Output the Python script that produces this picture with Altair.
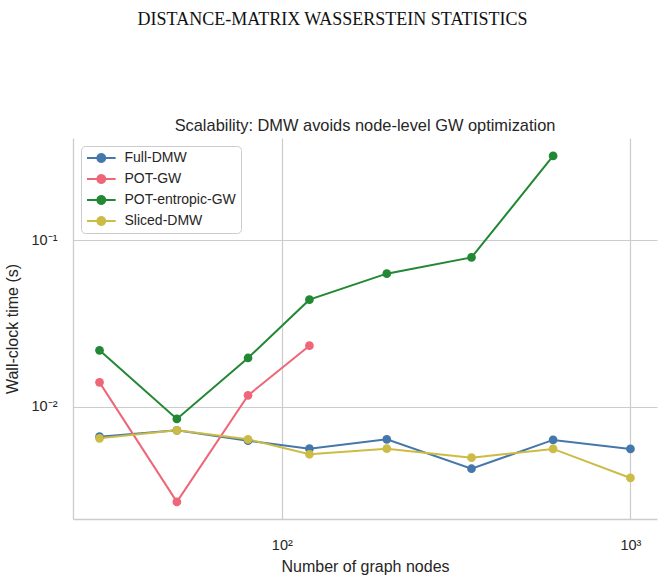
import math

import altair as alt
import pandas as pd

# Wall-clock time (seconds) per method against number of graph nodes
nodes = [30, 50, 80, 120, 200, 350, 600, 1000]
full_dmw = [0.00662, 0.00723, 0.00626, 0.00561, 0.00638, 0.00425, 0.00633, 0.00559]
pot_gw = [0.01403, 0.002685, 0.01172, 0.02331]
pot_entropic_gw = [0.02184, 0.00846, 0.01966, 0.04403, 0.0631, 0.0790, 0.3214]
sliced_dmw = [0.00647, 0.00723, 0.00638, 0.00519, 0.00561, 0.00495, 0.00559, 0.00374]

methods = ["Full-DMW", "POT-GW", "POT-entropic-GW", "Sliced-DMW"]
palette = ["#4477AA", "#EE6677", "#228833", "#CCBB44"]
series = [full_dmw, pot_gw, pot_entropic_gw, sliced_dmw]

suptitle = "Distance-Matrix Wasserstein Statistics"
title = "Scalability: DMW avoids node-level GW optimization"
x_title = "Number of graph nodes"
y_title = "Wall-clock time (s)"

rows = []
for name, values in zip(methods, series):
    for n, t in zip(nodes, values):
        rows.append({"method": name, "nodes": n, "time": t})
df = pd.DataFrame(rows)

FONT = "Liberation Sans"
INK = "#262626"
GRID = "#cccccc"

W, H = 584, 381
PAD = {"left": 73, "top": 138, "right": 8, "bottom": 63}


def legend_glyph(x0=-1.0, x1=3.77, half=0.15, cx=1.38, r=0.82, n=20):
    """Line-with-marker glyph as a filled path: a thin bar plus a dot."""
    bar = f"M{x0},{-half}L{x1},{-half}L{x1},{half}L{x0},{half}Z"
    pts = [
        (cx + r * math.cos(2 * math.pi * k / n), r * math.sin(2 * math.pi * k / n))
        for k in range(n)
    ]
    dot = "M" + "L".join(f"{px:.3f},{py:.3f}" for px, py in pts) + "Z"
    return bar + dot


x_enc = alt.X(
    "nodes:Q",
    scale=alt.Scale(type="log", domain=[25.18, 1191.6], nice=False, zero=False),
    axis=alt.Axis(
        title=x_title, values=[100, 1000],
        labelExpr="datum.value > 500 ? '10³' : '10²'",
        grid=True, gridColor=GRID, gridWidth=1.2,
        domainColor=GRID, domainWidth=1.3,
        ticks=False, tickSize=0, labelPadding=19,
        labelFont=FONT, labelFontSize=14.5, labelColor=INK,
        titleFont=FONT, titleFontSize=16, titleFontWeight="normal",
        titleColor=INK, titlePadding=7,
    ),
)
y_enc = alt.Y(
    "time:Q",
    scale=alt.Scale(type="log", domain=[0.00212, 0.412], nice=False, zero=False),
    axis=alt.Axis(
        title=y_title, values=[0.01, 0.1],
        labelExpr="datum.value > 0.05 ? '10⁻¹' : '10⁻²'",
        grid=True, gridColor=GRID, gridWidth=1.2,
        domainColor=GRID, domainWidth=1.3,
        ticks=False, tickSize=0, labelPadding=16,
        labelFont=FONT, labelFontSize=14.5, labelColor=INK,
        titleFont=FONT, titleFontSize=16, titleFontWeight="normal",
        titleColor=INK, titlePadding=11,
    ),
)

# line colours come from a data-sorted domain (same order as `methods`),
# so this hidden stroke legend stays separate from the marker legend
lines = alt.Chart(df).mark_line(strokeWidth=2).encode(
    x=x_enc, y=y_enc,
    stroke=alt.Stroke("method:N", scale=alt.Scale(range=palette), legend=None),
)

points = alt.Chart(df).mark_circle(size=76, opacity=1).encode(
    x=x_enc, y=y_enc,
    fill=alt.Fill(
        "method:N",
        scale=alt.Scale(domain=methods, range=palette),
        legend=alt.Legend(
            orient="top-left", offset=8, title=None,
            symbolType=legend_glyph(), symbolSize=144,
            labelFont=FONT, labelFontSize=14, labelColor=INK,
            labelOffset=24.5, rowPadding=7, padding=5,
            strokeColor=GRID, fillColor="white", cornerRadius=4,
        ),
    ),
)

captions = pd.DataFrame({"t": [suptitle.upper(), title]})

header = alt.Chart(captions).transform_filter(
    alt.datum.t == suptitle.upper()
).mark_text(
    font="Liberation Serif", fontSize=18, color="#111111",
    align="center", baseline="alphabetic",
).encode(
    text="t:N",
    x=alt.value(332.5 - PAD["left"]),
    y=alt.value(25 - PAD["top"]),
)

plot_title = alt.Chart(captions).transform_filter(
    alt.datum.t == title
).mark_text(
    font=FONT, fontSize=16.4, color=INK, align="center", baseline="alphabetic",
).encode(
    text="t:N",
    x=alt.value(W / 2),
    y=alt.value(-7),
)

chart = (
    alt.layer(lines, points, header, plot_title)
    .properties(
        width=W, height=H,
        padding=PAD,
        autosize=alt.AutoSizeParams(type="none"),
        background="white",
    )
    .configure_view(stroke=None)
)

chart.save("out.html", embed_options={"renderer": "svg", "actions": False})
